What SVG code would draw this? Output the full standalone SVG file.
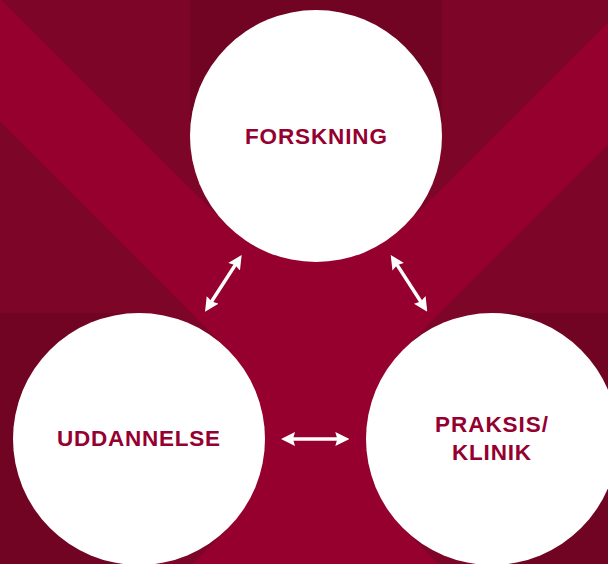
<svg xmlns="http://www.w3.org/2000/svg" width="608" height="564" viewBox="0 0 608 564">
  <style>
    .shade { fill: #7d0528; }
    .deep { fill: #710323; }
    .node { fill: #ffffff; }
    .label { font-family: "Liberation Sans", Arial, sans-serif; font-weight: bold; font-size: 22.5px; fill: #94002f; text-anchor: middle; }
    .conn { stroke: #ffffff; stroke-width: 3.5; fill: none; marker-start: url(#head); marker-end: url(#head); }
  </style>
  <defs>
    <marker id="head" viewBox="0 0 14 14" refX="10" refY="7" markerWidth="14" markerHeight="14" markerUnits="userSpaceOnUse" orient="auto-start-reverse">
      <path d="M0,0 L14,7 L0,14 L2,7 z" fill="#ffffff"/>
    </marker>
  </defs>

  <rect id="background" x="0" y="0" width="608" height="564" fill="#95002e"/>

  <g id="shadows">
    <!-- diagonal long shadows -->
    <polygon class="shade" points="405.1,46.9 -19.2,-377.4 -197.4,-199.2 226.9,225.1"/>
    <polygon class="shade" points="405.1,225.1 829.4,-199.2 651.2,-377.4 226.9,46.9"/>
    <polygon class="shade" points="228.1,349.9 -196.2,-74.4 -374.4,103.8 49.9,528.1"/>
    <polygon class="shade" points="228.1,528.1 -196.2,952.4 -374.4,774.2 49.9,349.9"/>
    <polygon class="shade" points="581.1,528.1 1005.4,103.8 827.2,-74.4 402.9,349.9"/>
    <polygon class="shade" points="581.1,349.9 1005.4,774.2 827.2,952.4 402.9,528.1"/>
    <!-- straight long shadows -->
    <polygon class="deep" points="190,136 190,-300 442,-300 442,136"/>
    <polygon class="deep" points="139,313 -300,313 -300,565 139,565"/>
    <polygon class="deep" points="492,313 900,313 900,565 492,565"/>
  </g>

  <g id="connectors">
    <line class="conn" x1="239.5" y1="258.4" x2="207.2" y2="308.3"/>
    <line class="conn" x1="392.9" y1="258.4" x2="425.1" y2="308.3"/>
    <line class="conn" x1="285" y1="439" x2="345.3" y2="439"/>
  </g>

  <g id="forskning">
    <circle class="node" cx="316" cy="136" r="126"/>
    <text class="label" x="316" y="144" textLength="142" lengthAdjust="spacing">FORSKNING</text>
  </g>

  <g id="uddannelse">
    <circle class="node" cx="139" cy="439" r="126"/>
    <text class="label" x="138.5" y="446" textLength="163" lengthAdjust="spacing">UDDANNELSE</text>
  </g>

  <g id="praksis">
    <circle class="node" cx="492" cy="439" r="126"/>
    <text class="label" x="491.5" y="432" textLength="113" lengthAdjust="spacing">PRAKSIS/</text>
    <text class="label" x="491.5" y="460" textLength="79" lengthAdjust="spacing">KLINIK</text>
  </g>
</svg>
